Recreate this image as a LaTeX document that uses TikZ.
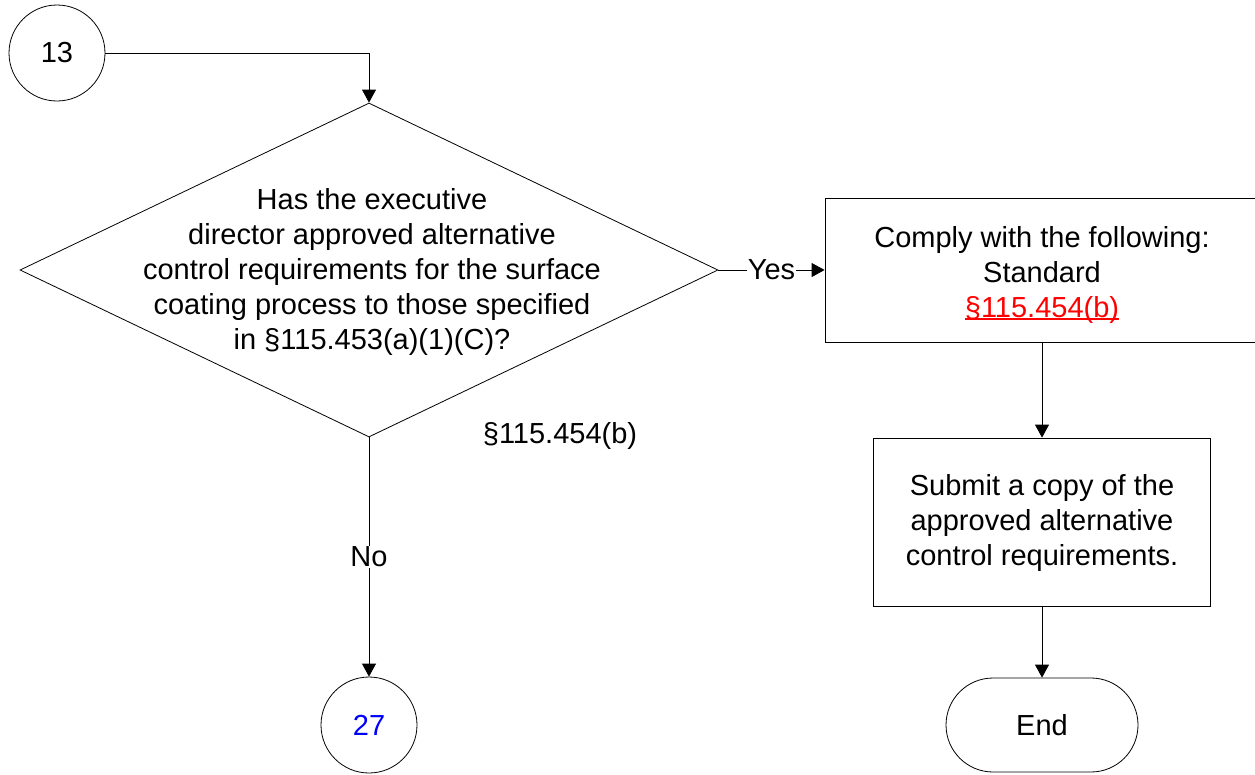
\documentclass[tikz,border=0pt]{standalone}
\usepackage{fontspec}
\setmainfont{Liberation Sans}
\usetikzlibrary{shapes.geometric,shapes.misc,arrows.meta}
\definecolor{linkred}{RGB}{255,0,0}
\definecolor{linkblue}{RGB}{0,0,255}
\newcommand{\closeul}[1]{\leavevmode\vtop{\hbox{#1}\kern-5pt\hrule height 1.2pt}}
\begin{document}
\begin{tikzpicture}[x=1pt,y=-1pt,
  every node/.style={font=\fontsize{29}{35}\selectfont, align=center},
  ln/.style={draw=black, line width=0.8pt},
  conn/.style={ln, -{Triangle[length=13pt,width=14pt]}},
  connector/.style={ln, circle, minimum size=96pt, inner sep=0pt},
  procbox/.style={ln, rectangle, inner sep=0pt},
  decision/.style={ln, diamond, inner sep=0pt},
  terminal/.style={ln, rounded rectangle, inner sep=0pt},
  edgelabel/.style={fill=white, inner sep=1pt}
]
\useasboundingbox (0,0) rectangle (1255,774);
\clip (0,0) rectangle (1255,774);

\node[connector] (c13) at (57,53) {13};
\node[decision, minimum width=698pt, minimum height=334pt] (q) at (369,270) {};
\node (qtext) at (372,272) {Has the executive\\director approved alternative\\control requirements for the surface\\coating process to those specified\\in §115.453(a)(1)(C)?};
\node (ref) at (560,436) {§115.454(b)};
\node[procbox, minimum width=434pt, minimum height=144pt] (comply) at (1042,270) {};
\node (complytext) at (1042,273) {Comply with the following:\\Standard\\\textcolor{linkred}{\closeul{§115.454(b)}}};
\node[procbox, minimum width=337pt, minimum height=168pt] (submit) at (1042,522) {};
\node (submittext) at (1042,523) {Submit a copy of the\\approved alternative\\control requirements.};
\node[terminal, minimum width=192pt, minimum height=94pt] (end) at (1042,725) {End};
\node[connector] (c27) at (369,725) {\textcolor{linkblue}{27}};

\coordinate (bend) at (q.north |- c13.east);
\draw[conn] (c13.east) -- (bend) -- (q.north);
\draw[conn] (q.east) -- node[edgelabel] (yes) {Yes} (comply.west);
\draw[conn] (q.south) -- node[edgelabel] (no) {No} (c27.north);
\draw[conn] (comply.south) -- (submit.north);
\draw[conn] (submit.south) -- (end.north);
\end{tikzpicture}
\end{document}
